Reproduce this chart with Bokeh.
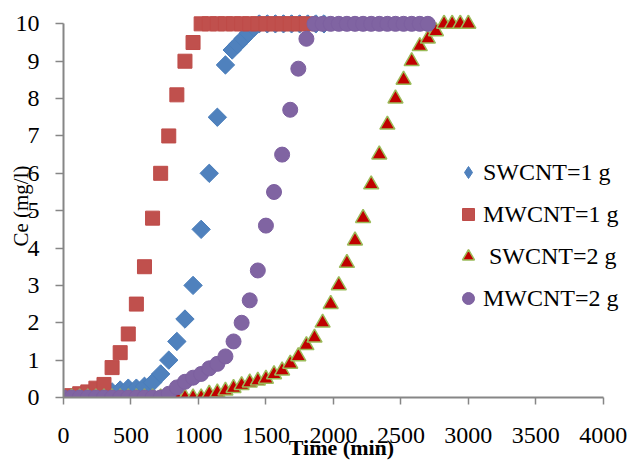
import math
from bokeh.plotting import figure
from bokeh.models import Range1d, FixedTicker, Legend, LegendItem
from bokeh.embed import file_html
from bokeh.resources import INLINE

# ---- data ----
x_ticks = [0, 500, 1000, 1500, 2000, 2500, 3000, 3500, 4000]
y_ticks = [0, 1, 2, 3, 4, 5, 6, 7, 8, 9, 10]

sw1_label = "SWCNT=1 g"
sw1_time = [0, 60, 120, 180, 240, 300, 360, 420, 480, 540, 600, 660, 720, 780, 840,
            900, 960, 1020, 1080, 1140, 1200, 1250, 1290, 1330, 1370, 1410,
            1450, 1510, 1570, 1630, 1690, 1750, 1810, 1870, 1930]
sw1_ce = [0, 0, 0, 0, 0.05, 0.1, 0.15, 0.2, 0.25, 0.25, 0.3, 0.4, 0.63, 1.0, 1.5,
          2.1, 3.0, 4.5, 6.0, 7.5, 8.9, 9.3, 9.45, 9.6, 9.75, 9.9,
          10, 10, 10, 10, 10, 10, 10, 10, 10]

mw1_label = "MWCNT=1 g"
mw1_time = [0, 60, 120, 180, 240, 300, 360, 420, 480, 540, 600, 660, 720, 780, 840,
            900, 960, 1020, 1080, 1140, 1200, 1260, 1320, 1380, 1440, 1500, 1560,
            1620, 1680, 1740, 1800]
mw1_ce = [0, 0.05, 0.1, 0.15, 0.25, 0.35, 0.8, 1.2, 1.7, 2.5, 3.5, 4.8, 6.0, 7.0, 8.1,
          9.0, 9.5, 10, 10, 10, 10, 10, 10, 10, 10, 10, 10,
          10, 10, 10, 10]

sw2_label = " SWCNT=2 g"
sw2_time = [0, 60, 120, 180, 240, 300, 360, 420, 480, 540, 600, 660, 720, 780, 840,
            900, 960, 1020, 1080, 1140, 1200, 1260, 1320, 1380, 1440, 1500, 1560,
            1620, 1680, 1740, 1800, 1860, 1920, 1980, 2040, 2100, 2160, 2220, 2280,
            2340, 2400, 2460, 2520, 2580, 2640, 2700, 2760, 2820, 2880, 2940, 3000]
sw2_ce = [0, 0, 0, 0, 0, 0, 0, 0, 0, 0, 0, 0, 0, 0, 0,
          0, 0, 0, 0.1, 0.13, 0.18, 0.25, 0.33, 0.4, 0.45, 0.5, 0.62,
          0.72, 0.9, 1.1, 1.4, 1.6, 2.0, 2.5, 3.0, 3.6, 4.2, 4.8, 5.7,
          6.5, 7.3, 8.0, 8.5, 9.0, 9.4, 9.6, 9.8, 10, 10, 10, 10]

mw2_label = "MWCNT=2 g"
mw2_time = [0, 60, 120, 180, 240, 300, 360, 420, 480, 540, 600, 660, 720, 780, 840,
            900, 960, 1020, 1080, 1140, 1200, 1260, 1320, 1380, 1440, 1500, 1560,
            1620, 1680, 1740, 1800, 1860, 1920, 1980, 2040, 2100, 2160, 2220, 2280,
            2340, 2400, 2460, 2520, 2580, 2640, 2700]
mw2_ce = [0, 0, 0, 0, 0, 0, 0, 0, 0, 0, 0, 0, 0, 0.1, 0.27,
          0.42, 0.53, 0.63, 0.78, 0.9, 1.1, 1.5, 2.0, 2.6, 3.4, 4.6, 5.5,
          6.5, 7.7, 8.8, 9.6, 10, 10, 10, 10, 10, 10, 10, 10,
          10, 10, 10, 10, 10, 10, 10]

FONT = "Liberation Serif"
AXIS_GRAY = "#868686"
BLUE, BLUE_EDGE = "#4F81BD", "#4A7EBB"

p = figure(width=630, height=462, output_backend="svg", toolbar_location=None,
           x_range=Range1d(0, 4120), y_range=Range1d(0, 10.25),
           min_border_left=63, min_border_right=11, min_border_top=14,
           min_border_bottom=65)
p.xgrid.visible = False
p.ygrid.visible = False
p.outline_line_color = None
p.background_fill_color = "white"
p.border_fill_color = "white"

# series (draw order as in the reference)
r_sw1 = p.scatter(sw1_time, sw1_ce, marker="square", angle=math.pi / 4, size=13,
                  fill_color=BLUE, line_color=BLUE_EDGE, line_width=1)
r_mw1 = p.scatter(mw1_time, mw1_ce, marker="square", size=14,
                  fill_color="#C0504D", line_color="#BE4B48", line_width=1)
r_sw2 = p.scatter(sw2_time, sw2_ce, marker="triangle", size=15,
                  fill_color="#C00000", line_color="#9BBB59", line_width=1.5)
r_mw2 = p.scatter(mw2_time, mw2_ce, marker="circle", size=15,
                  fill_color="#8064A2", line_color="#7D60A0", line_width=1)

# legend key for the diamond series: the legend draws markers unrotated,
# so the key uses the diamond marker on a hidden twin of the series
r_sw1_key = p.scatter(sw1_time, sw1_ce, marker="diamond", size=13,
                      fill_color=BLUE, line_color=BLUE_EDGE, visible=False)

legend = Legend(items=[
    LegendItem(label=sw1_label, renderers=[r_sw1_key]),
    LegendItem(label=mw1_label, renderers=[r_mw1]),
    LegendItem(label=sw2_label, renderers=[r_sw2]),
    LegendItem(label=mw2_label, renderers=[r_mw2]),
], location=(390, 81), orientation="vertical", padding=0, margin=0, spacing=6,
    glyph_width=30, glyph_height=36, label_standoff=0,
    label_text_font=FONT, label_text_font_size="24px", label_text_color="black",
    inactive_fill_alpha=0, inactive_fill_color="white",
    background_fill_alpha=0, border_line_color=None)
p.add_layout(legend)

# axes
for ax in (p.xaxis[0], p.yaxis[0]):
    ax.axis_line_color = AXIS_GRAY
    ax.axis_line_width = 2
    ax.major_tick_line_color = AXIS_GRAY
    ax.major_tick_line_width = 1.5
    ax.major_tick_in = 0
    ax.minor_tick_line_color = None
    ax.major_label_text_font = FONT
    ax.major_label_text_font_size = "24px"
    ax.major_label_text_color = "black"
    ax.axis_label_text_font = FONT
    ax.axis_label_text_color = "black"

p.xaxis.ticker = FixedTicker(ticks=x_ticks)
p.xaxis.bounds = (0, 4000)
p.xaxis.major_tick_out = 7
p.xaxis.major_label_standoff = 23
p.xaxis.axis_label = "Time (min)"
p.xaxis.axis_label_text_font_style = "bold"
p.xaxis.axis_label_text_font_size = "22px"
p.xaxis.axis_label_standoff = -11

p.yaxis.ticker = FixedTicker(ticks=y_ticks)
p.yaxis.bounds = (0, 10)
p.yaxis.major_tick_out = 8
p.yaxis.major_label_standoff = 16
p.yaxis.axis_label = "Ce (mg/l)"
p.yaxis.axis_label_text_font_style = "normal"
p.yaxis.axis_label_text_font_size = "21px"
p.yaxis.axis_label_standoff = -20

open("out.html", "w").write(file_html(p, INLINE))
